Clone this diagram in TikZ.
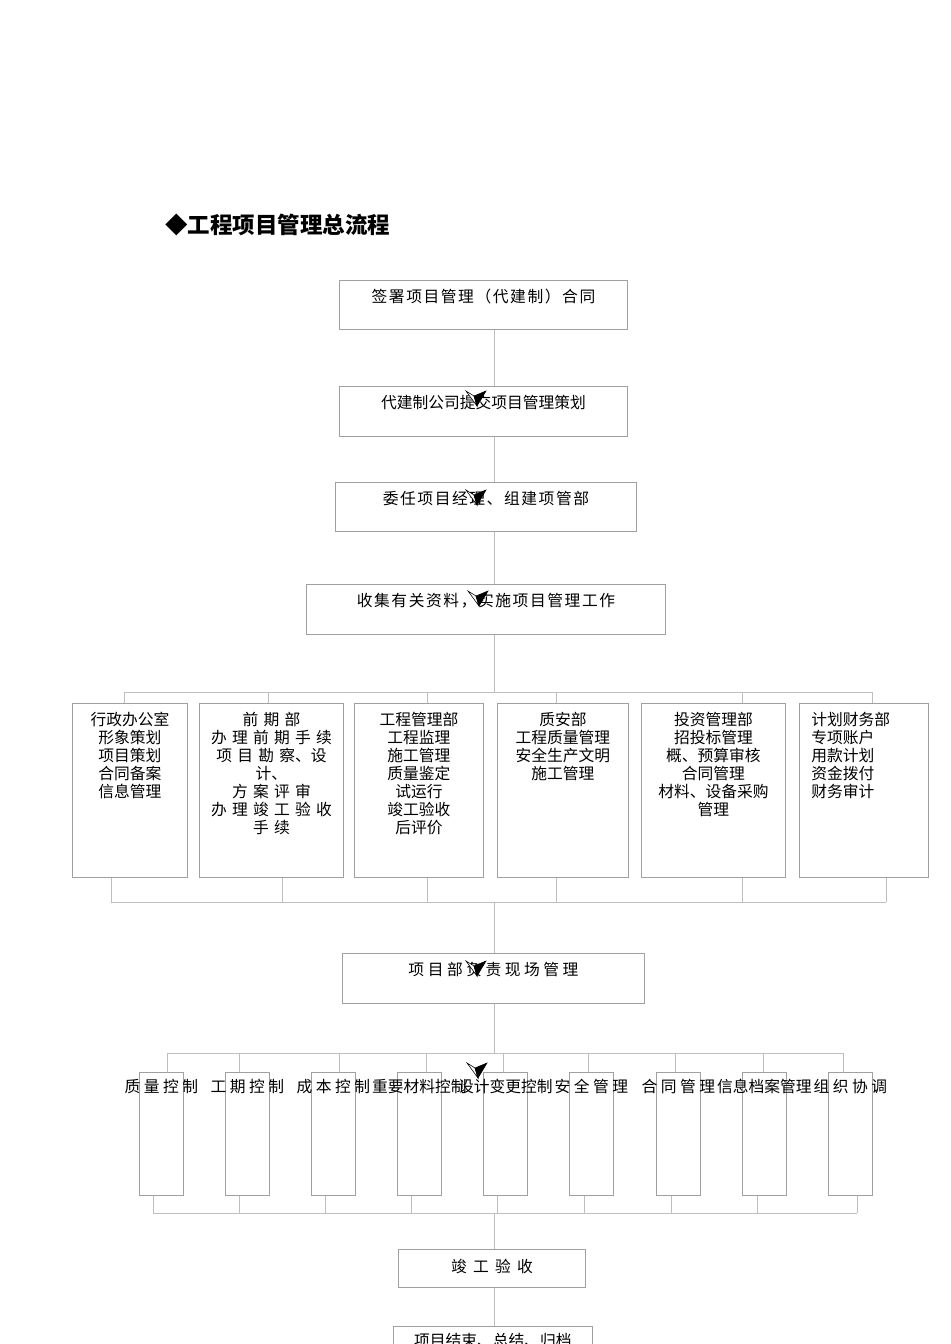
\documentclass[tikz,border=0pt]{standalone}
\usepackage{fontspec}
\usepackage{tikz}
\usetikzlibrary{positioning}
\newfontfamily\cjk{Noto Sans CJK SC}
\definecolor{boxgray}{HTML}{A0A0A0}
\definecolor{linegray}{HTML}{BEBEBE}

\begin{document}
\begin{tikzpicture}[x=0.025cm, y=-0.025cm]
    \tikzset{flow/.style={draw=boxgray, line width=0.6pt, inner ysep=0pt, text height=0.55cm, text depth=0.675cm,
                          anchor=north west, font=\cjk\fontsize{11.2pt}{12.8pt}\selectfont},
             dept/.style={draw=boxgray, line width=0.6pt, inner ysep=0pt, inner xsep=0pt, align=center,
                          text height=0.55cm, text depth=3.8cm, anchor=north west, font=\cjk\fontsize{11.2pt}{12.8pt}\selectfont},
             task/.style={draw=boxgray, line width=0.6pt, inner sep=0pt, minimum width=1.1cm, minimum height=3.075cm, anchor=north west},
             tasklabel/.style={inner sep=0pt, font=\cjk\fontsize{11.2pt}{12.8pt}\selectfont},
             conn/.style={draw=linegray, line width=0.6pt},
             tipmark/.pic={\path[draw=black, fill=white, line width=0.4pt] (-10,-7) -- (1,8) -- (-2,-2) -- cycle;
                           \path[draw=black, fill=black, line width=0.4pt] (-2,-2) -- (10,-7) -- (1,8) -- cycle;}}
    \useasboundingbox (0,0) rectangle (950,1344);
    \node [anchor=west, inner sep=0pt, font=\cjk\bfseries\fontsize{16pt}{18pt}\selectfont] (title) at (165,225) {◆工程项目管理总流程};
    \node [flow, minimum width=7.2cm]   (sign) at (339,280) {\addfontfeatures{LetterSpace=10}签署项目管理（代建制）合同};
    \node [flow, minimum width=7.2cm, text depth=0.7cm] (plan) at (339,386) {代建制公司提交项目管理策划};
    \node [flow, minimum width=7.525cm] (mgr)  at (335,482) {\addfontfeatures{LetterSpace=10}委任项目经理、组建项管部};
    \node [flow, minimum width=8.975cm, text depth=0.7cm] (work) at (306,584) {\addfontfeatures{LetterSpace=10}收集有关资料，实施项目管理工作};
    \node [dept, text width=2.875cm] (d1) at (72,703)  {行政办公室\\形象策划\\项目策划\\合同备案\\信息管理};
    \node [dept, text width=3.6cm]   (d2) at (199,703) {前 期 部\\办 理 前 期 手 续\\项 目 勘 察、设\\计、\\方 案 评 审\\办 理 竣 工 验 收\\手 续};
    \node [dept, text width=3.225cm] (d3) at (354,703) {工程管理部\\工程监理\\施工管理\\质量鉴定\\试运行\\竣工验收\\后评价};
    \node [dept, text width=3.275cm] (d4) at (497,703) {质安部\\工程质量管理\\安全生产文明\\施工管理};
    \node [dept, text width=3.6cm]   (d5) at (641,703) {投资管理部\\招投标管理\\概、预算审核\\合同管理\\材料、设备采购\\管理};
    \node [dept, align=left, inner xsep=0.3cm, text width=2.625cm] (d6) at (799,703) {计划财务部\\专项账户\\用款计划\\资金拨付\\财务审计};
    \node [flow, minimum width=7.55cm, text depth=0.7cm] (site) at (342,953) {项 目 部 负 责 现 场 管 理};
    \foreach \i/\x in {1/139, 2/225, 3/311, 4/397, 5/483, 6/569, 7/656, 8/742, 9/828}
        \node [task] (t\i) at (\x,1072) {};
    \foreach \i/\txt in {1/质 量 控 制, 2/工 期 控 制, 3/成 本 控 制, 4/重要材料控制, 5/设计变更控制,
                         6/安 全 管 理, 7/合 同 管 理, 8/信息档案管理, 9/组 织 协 调}
        \node [tasklabel, below=0.175cm of t\i.north] (l\i) {\txt};
    \node [flow, minimum width=4.675cm, text height=0.575cm, text depth=0.375cm] (accept) at (398,1249) {\addfontfeatures{LetterSpace=40}竣工验收};
    \node [flow, minimum width=4.975cm, text height=0.5cm, text depth=0.75cm] (close) at (393,1326) {项目结束、总结、归档};
    \coordinate (spine) at (494,0);
    \foreach \i/\x in {1/124, 2/268, 3/427, 4/556, 5/742, 6/872}
        \coordinate (up\i) at (\x,692);
    \foreach \i/\x in {1/111, 2/282, 3/427, 4/556, 5/742, 6/886}
        \coordinate (dn\i) at (\x,902);
    \foreach \i/\x in {1/167, 2/239, 3/339, 4/426, 5/503, 6/588, 7/675, 8/763, 9/843}
        \coordinate (tu\i) at (\x,1053);
    \foreach \i/\x in {1/153, 2/239, 3/325, 4/411, 5/497, 6/584, 7/671, 8/757, 9/857}
        \coordinate (td\i) at (\x,1213);
    \draw [conn] (sign.south -| spine) -- (plan.north -| spine);
    \draw [conn] (plan.south -| spine) -- (mgr.north -| spine);
    \draw [conn] (mgr.south -| spine)  -- (work.north -| spine);
    \draw [conn] (work.south -| spine) -- (spine |- up1);
    \draw [conn] (up1) -- (up6);
    \foreach \i in {1,...,6}
        \draw [conn] (up\i) -- (up\i |- d\i.north);
    \foreach \i in {1,...,6}
        \draw [conn] (dn\i |- d\i.south) -- (dn\i);
    \draw [conn] (dn1) -- (dn6);
    \draw [conn] (spine |- dn1) -- (site.north -| spine);
    \draw [conn] (site.south -| spine) -- (spine |- tu1);
    \draw [conn] (tu1) -- (tu9);
    \foreach \i in {1,...,9}
        \draw [conn] (tu\i) -- (tu\i |- t\i.north);
    \foreach \i in {1,...,9}
        \draw [conn] (td\i |- t\i.south) -- (td\i);
    \draw [conn] (td1) -- (td9);
    \draw [conn] (spine |- td1) -- (accept.north -| spine);
    \draw [conn] (accept.south -| spine) -- (close.north -| spine);
    \foreach \x/\y in {476/398, 476/497, 478/598, 476/968, 477/1070}
        \pic at (\x,\y) {tipmark};
\end{tikzpicture}
\end{document}
